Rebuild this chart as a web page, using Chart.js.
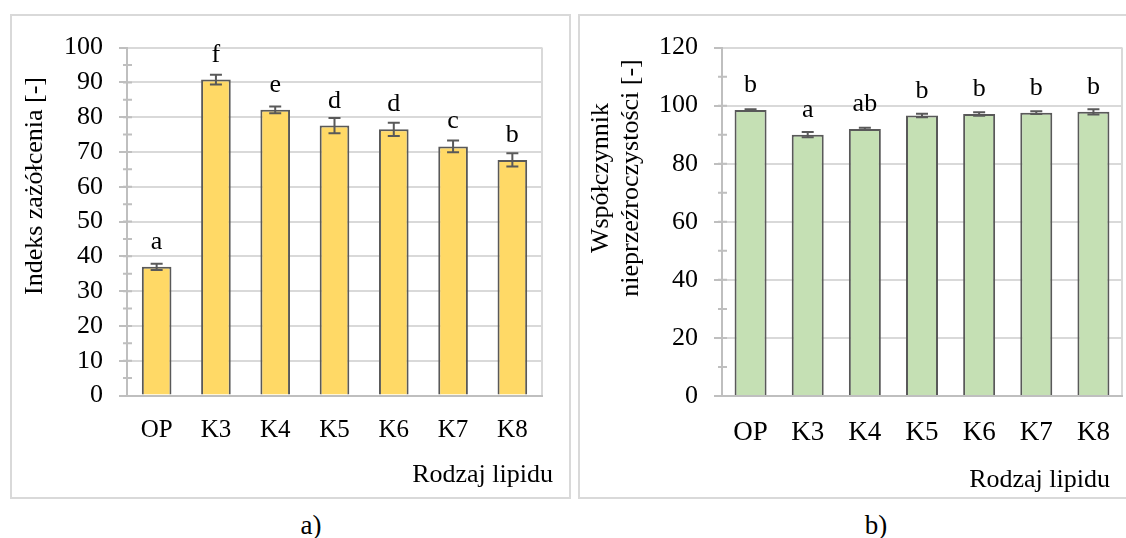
<!DOCTYPE html>
<html>
<head>
<meta charset="utf-8">
<script src="https://cdn.jsdelivr.net/npm/chart.js@4.4.0/dist/chart.umd.min.js"></script>
<style>
  body { margin: 0; width: 1126px; height: 538px; overflow: hidden; background: #fff; position: relative; font-family: "Liberation Serif", serif; }
  .box { position: absolute; border: 2px solid #d9d9d9; box-sizing: border-box; overflow: hidden; }
  .box canvas { display: block; }
  .cap { position: absolute; width: 60px; text-align: center; font-size: 27px; line-height: 30px; color: #000; }
</style>
</head>
<body>
<div class="box" style="left:10px; top:14px; width:561px; height:485px;">
  <canvas id="chartA" width="557" height="481"></canvas>
</div>
<div class="box" style="left:578px; top:14px; width:560px; height:485px;">
  <canvas id="chartB" width="556" height="481"></canvas>
</div>
<div class="cap" style="left:281px; top:510px;">a)</div>
<div class="cap" style="left:846px; top:510px;">b)</div>

<script>
// rodzaje lipidu
const categories = ['OP', 'K3', 'K4', 'K5', 'K6', 'K7', 'K8'];

// a) indeks zażółcenia
const yellowValues = [37.0, 90.8, 82.1, 77.6, 76.5, 71.6, 67.7];
const yellowErrors = [0.9, 1.4, 1.0, 2.2, 1.9, 1.7, 1.9];
const yellowLetters = ['a', 'f', 'e', 'd', 'd', 'c', 'b'];

// b) współczynnik nieprzeźroczystości
const opacityValues = [98.5, 90.0, 92.0, 96.6, 97.1, 97.6, 97.9];
const opacityErrors = [0.3, 0.9, 0.4, 0.6, 0.6, 0.5, 0.9];
const opacityLetters = ['b', 'a', 'ab', 'b', 'b', 'b', 'b'];

const FONT = '"Liberation Serif", "Times New Roman", serif';

// slupki bledow, litery grup, podzialki pomocnicze i tytuly osi
function makeExtras(cfg) {
  return {
    id: 'extras_' + cfg.name,
    beforeDatasetsDraw(chart) {
      const ctx = chart.ctx;
      const area = chart.chartArea;
      const y = chart.scales.y;
      ctx.save();
      // prawa krawedz obszaru wykresu
      ctx.strokeStyle = '#d9d9d9';
      ctx.lineWidth = 2;
      ctx.beginPath();
      ctx.moveTo(area.right, area.top);
      ctx.lineTo(area.right, area.bottom);
      ctx.stroke();
      // podzialki pomocnicze przecinajace os
      ctx.strokeStyle = '#bfbfbf';
      ctx.beginPath();
      for (let v = cfg.minor; v < cfg.max; v += cfg.major) {
        const py = y.getPixelForValue(v);
        ctx.moveTo(area.left - 4, py);
        ctx.lineTo(area.left + 5, py);
      }
      ctx.stroke();
      ctx.restore();
    },
    afterDatasetsDraw(chart) {
      const ctx = chart.ctx;
      const y = chart.scales.y;
      const meta = chart.getDatasetMeta(0);
      ctx.save();
      ctx.strokeStyle = '#595959';
      ctx.lineWidth = 2;
      ctx.fillStyle = '#000';
      ctx.font = '26px ' + FONT;
      ctx.textAlign = 'center';
      ctx.textBaseline = 'alphabetic';
      meta.data.forEach((bar, i) => {
        const top = y.getPixelForValue(cfg.values[i] + cfg.errors[i]);
        const bot = y.getPixelForValue(cfg.values[i] - cfg.errors[i]);
        ctx.beginPath();
        ctx.moveTo(bar.x, top); ctx.lineTo(bar.x, bot);
        ctx.moveTo(bar.x - 6, top); ctx.lineTo(bar.x + 6, top);
        ctx.moveTo(bar.x - 6, bot); ctx.lineTo(bar.x + 6, bot);
        ctx.stroke();
        ctx.fillText(cfg.letters[i], bar.x, bar.y - 18);
      });
      ctx.restore();
    },
    afterDraw(chart) {
      const ctx = chart.ctx;
      const area = chart.chartArea;
      ctx.save();
      ctx.fillStyle = '#000';
      ctx.font = cfg.titleSize + 'px ' + FONT;
      ctx.textBaseline = 'middle';
      // tytul osi X
      ctx.textAlign = 'right';
      ctx.fillText('Rodzaj lipidu', area.right + cfg.xTitle[0], area.bottom + cfg.xTitle[1]);
      // tytul osi Y (obrocony)
      ctx.textAlign = 'center';
      cfg.yTitle.forEach((line, k) => {
        ctx.save();
        ctx.translate(cfg.yTitlePos[0] + k * 30, cfg.yTitlePos[1]);
        ctx.rotate(-Math.PI / 2);
        ctx.fillText(line, 0, 0);
        ctx.restore();
      });
      ctx.restore();
    }
  };
}

function barChart(id, cfg) {
  const major = cfg.major * 2;
  return new Chart(document.getElementById(id), {
    type: 'bar',
    data: {
      labels: categories,
      datasets: [{
        data: cfg.values,
        backgroundColor: cfg.fill,
        borderColor: '#595959',
        borderWidth: 2,
        categoryPercentage: 1,
        barPercentage: cfg.barPct
      }]
    },
    options: {
      responsive: false,
      animation: false,
      layout: { padding: cfg.padding },
      plugins: { legend: { display: false }, tooltip: { enabled: false } },
      scales: {
        x: {
          afterFit: s => { s.height = cfg.xHeight; },
          grid: { display: false },
          border: { color: '#bfbfbf', width: 2, z: 1 },
          ticks: { color: '#000', padding: cfg.xPad, font: { family: FONT, size: cfg.xSize } }
        },
        y: {
          min: 0,
          max: cfg.max,
          afterFit: s => { s.width = cfg.yWidth; },
          grid: {
            lineWidth: 2,
            tickLength: 8,
            color: c => (c.tick && c.tick.value % major === 0) ? '#d9d9d9' : 'transparent',
            tickColor: c => (c.tick && c.tick.value % major === 0) ? '#bfbfbf' : 'transparent'
          },
          border: { color: '#bfbfbf', width: 2 },
          ticks: {
            stepSize: cfg.major,
            padding: 16,
            color: '#000',
            font: { family: FONT, size: 26 },
            callback: v => (v % major === 0 ? v : '')
          }
        }
      }
    },
    plugins: [makeExtras(cfg)]
  });
}

barChart('chartA', {
  name: 'a',
  values: yellowValues,
  errors: yellowErrors,
  letters: yellowLetters,
  fill: '#ffd966',
  barPct: 0.5,
  max: 100,
  major: 5,
  minor: 5,
  padding: { left: 0, top: 30, right: 27, bottom: 0 },
  xHeight: 101.5,
  yWidth: 115,
  xPad: 12,
  xSize: 25,
  titleSize: 26,
  xTitle: [11, 80],
  yTitle: ['Indeks zażółcenia [-]'],
  yTitlePos: [23, 170]
});

barChart('chartB', {
  name: 'b',
  values: opacityValues,
  errors: opacityErrors,
  letters: opacityLetters,
  fill: '#c5e0b4',
  barPct: 0.56,
  max: 120,
  major: 10,
  minor: 10,
  padding: { left: 0, top: 27, right: 14, bottom: 0 },
  xHeight: 101,
  yWidth: 142,
  xPad: 13,
  xSize: 27,
  titleSize: 26,
  xTitle: [-12, 84],
  yTitle: ['Współczynnik', 'nieprzeźroczystości [-]'],
  yTitlePos: [21, 162]
});
</script>
</body>
</html>
